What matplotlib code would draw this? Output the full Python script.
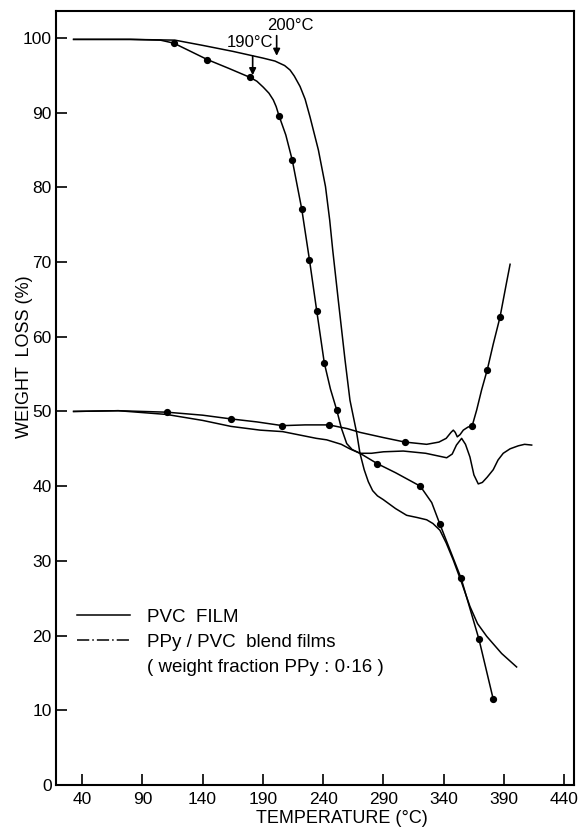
import matplotlib
matplotlib.use("Agg")
import matplotlib.pyplot as plt
from matplotlib.lines import Line2D

plt.rcParams['font.family'] = ['Liberation Sans', 'DejaVu Sans']

# PVC film, upper curve (no markers)
pvc_x = [33, 80, 117, 140, 165, 190, 200, 204, 208, 212.5, 216, 220.8, 225, 229.1, 236, 241.9,
         245.4, 247.9, 252.5, 258.1, 262.2, 267.8, 270.5, 274, 277.4, 281, 285, 289.8, 300,
         309.2, 318, 325.8, 331, 336.8, 342, 347.9, 355, 361.7, 368, 375.6, 388, 400.4]
pvc_y = [99.8, 99.8, 99.7, 99.0, 98.2, 97.3, 96.9, 96.6, 96.3, 95.7, 94.9, 93.5, 91.8, 89.4,
         85.0, 80.1, 75.6, 71.6, 64.9, 56.9, 51.5, 47.1, 44.4, 42.2, 40.6, 39.4, 38.7, 38.2,
         37.0, 36.1, 35.8, 35.5, 35.0, 34.1, 32.4, 30.1, 27.0, 23.9, 21.6, 19.9, 17.6, 15.8]

# PPy/PVC blend, upper curve
blend_x = [33, 80, 105, 116, 130, 143.9, 162, 179.5, 185, 190.3, 195, 198.6, 201, 203.3, 209,
           214.4, 222.2, 228.6, 234.6, 240.9, 246, 251.2, 255, 259.5, 264, 270.5, 285, 300,
           320.5, 330, 336.8, 354.3, 369.2, 381]
blend_y = [99.8, 99.8, 99.7, 99.3, 98.2, 97.1, 95.9, 94.7, 94.2, 93.4, 92.6, 91.7, 90.8, 89.6,
           87.0, 83.6, 77.1, 70.3, 63.5, 56.5, 53.0, 50.2, 47.8, 45.7, 44.9, 44.4, 43.0, 41.8,
           40.0, 37.8, 34.9, 27.7, 19.5, 11.5]
blend_marks = [3, 5, 7, 13, 15, 16, 17, 18, 19, 21, 26, 28, 30, 31, 32, 33]

# PPy/PVC blend, lower curve (starting at 50)
blend2_x = [33, 70, 110.5, 140, 163.5, 185, 206.2, 225, 244.8, 260, 270.5, 290, 307.8, 325.8,
            336, 342, 346, 347.9, 349.5, 351.2, 353.5, 356.2, 360, 363.6, 367.3, 371.4,
            376.1, 381, 386.6, 389.3, 392, 395]
blend2_y = [50.0, 50.1, 49.9, 49.5, 49.0, 48.6, 48.1, 48.2, 48.2, 47.7, 47.2, 46.5, 45.9, 45.6,
            45.9, 46.4, 47.2, 47.5, 47.2, 46.6, 46.9, 47.5, 47.9, 48.1, 50.2, 52.9,
            55.6, 59.0, 62.6, 64.9, 67.2, 69.7]
blend2_marks = [2, 4, 6, 8, 12, 23, 26, 28]

# PVC film, lower curve (starting at 50)
pvc2_x = [33, 70, 110, 140, 163.5, 187.6, 206.4, 234.3, 242.9, 255, 262, 270.5, 280, 290,
          306.4, 325, 342.4, 347, 350.5, 354.8, 358, 361.7, 365, 368.6, 372, 376, 381, 385,
          389.3, 395, 401.8, 407, 412.9]
pvc2_y = [50.0, 50.1, 49.6, 48.8, 48.0, 47.5, 47.3, 46.4, 46.2, 45.6, 45.0, 44.4, 44.4, 44.6,
          44.7, 44.4, 43.8, 44.3, 45.5, 46.4, 45.6, 43.9, 41.5, 40.3, 40.5, 41.2, 42.2, 43.5,
          44.4, 45.0, 45.4, 45.6, 45.5]

x_ticks = [40, 90, 140, 190, 240, 290, 340, 390, 440]
y_ticks = [0, 10, 20, 30, 40, 50, 60, 70, 80, 90, 100]

fig = plt.figure(figsize=(5.78, 8.33), dpi=100)
ax = fig.add_axes([56 / 578, 48 / 833, 518 / 578, 774 / 833])

lw = 1.1
ax.plot(pvc_x, pvc_y, color='black', lw=lw)
ax.plot(pvc2_x, pvc2_y, color='black', lw=lw)
ax.plot(blend_x, blend_y, color='black', lw=lw, marker='o', ms=4.2, markevery=blend_marks)
ax.plot(blend2_x, blend2_y, color='black', lw=lw, marker='o', ms=4.2, markevery=blend2_marks)

# arrows for onset temperatures
arrow = dict(arrowstyle='-|>', color='black', lw=1.2, mutation_scale=10, shrinkA=0, shrinkB=0)
ax.annotate('', xy=(181.5, 95.0), xytext=(181.5, 97.6), arrowprops=arrow)
ax.annotate('', xy=(201.4, 97.6), xytext=(201.4, 100.3), arrowprops=arrow)
ax.text(179, 99.4, '190°C', fontsize=12, ha='center', va='center')
ax.text(213, 101.6, '200°C', fontsize=12, ha='center', va='center')

ax.set_xlim(18.4, 448)
ax.set_ylim(0, 103.6)
ax.set_xticks(x_ticks)
ax.set_yticks(y_ticks)
ax.tick_params(direction='in', length=8, width=1.2, labelsize=12.5)
ax.tick_params(axis='x', pad=5)
ax.tick_params(axis='y', pad=3)
for s in ax.spines.values():
    s.set_linewidth(1.5)

ax.set_xlabel('TEMPERATURE (°C)', fontsize=13)
ax.set_ylabel('WEIGHT  LOSS (%)', fontsize=13)
ax.xaxis.set_label_coords(0.552, -0.032)
ax.yaxis.set_label_coords(-0.044, 0.553)

handles = [Line2D([], [], color='black', lw=lw),
           Line2D([], [], color='black', lw=lw, linestyle=(0, (8, 2, 1, 2))),
           Line2D([], [], color='none')]
labels = ['PVC  FILM', 'PPy / PVC  blend films', '( weight fraction PPy : 0·16 )']
ax.legend(handles, labels, loc='upper left', bbox_to_anchor=(0.0405, 0.228),
          frameon=False, fontsize=13.5, handlelength=2.85, handletextpad=0.9,
          labelspacing=0.42, borderpad=0, borderaxespad=0)

fig.savefig('out.png', dpi=100)
